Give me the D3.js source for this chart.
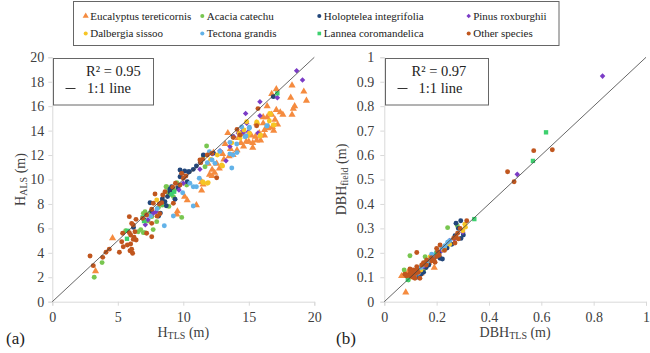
<!DOCTYPE html>
<html><head><meta charset="utf-8">
<script src="https://cdn.jsdelivr.net/npm/d3@7"></script>
<style>html,body{margin:0;padding:0;background:#fff}svg{display:block}svg text{font-family:'Liberation Serif','Times New Roman',serif}</style>
</head><body>
<svg id="c" width="650" height="353"></svg>
<script>
// ---------- data ----------
const speciesNames = ["Eucalyptus tereticornis","Acacia catechu","Holoptelea integrifolia","Pinus roxburghii","Dalbergia sissoo","Tectona grandis","Lannea coromandelica","Other species"];

// panel (a): [H_TLS, H_ALS] in m
const eucH = [[3.3,2.5],[4.6,5.2],[9.5,7.15],[9.55,7.4],[11.0,7.9],[10.1,8.6],[10.3,8.3],[11.4,9.1],[11.4,9.8],[11.5,9.6],[12.0,10.4],[12.2,10.8],[12.4,10.55],[12.75,10.9],[12.55,11.3],[13.1,11.65],[13.5,11.9],[13.0,12.1],[13.8,12.0],[13.6,12.5],[14.1,12.4],[14.6,12.7],[14.8,13.1],[15.3,12.6],[15.6,13.2],[15.9,13.6],[16.2,14.05],[16.5,14.3],[16.1,14.6],[15.6,14.6],[14.2,13.4],[13.4,13.8],[14.6,13.7],[15.0,13.1],[15.3,13.0],[15.2,13.6],[15.5,13.5],[15.9,13.2],[16.2,13.6],[15.8,13.8],[16.9,14.0],[16.5,14.2],[16.8,14.3],[17.2,14.5],[17.0,14.9],[16.1,15.1],[16.4,15.1],[16.75,15.3],[17.6,15.3],[17.4,15.5],[17.1,15.7],[18.3,15.3],[18.4,15.8],[18.5,16.0],[16.4,16.0],[16.75,17.0],[17.1,17.4],[18.2,16.7],[19.4,16.45],[19.2,17.2],[18.3,17.7],[12.3,12.2],[11.9,11.3],[13.2,12.9],[12.2,10.3],[14.4,13.0]];
const acaH = [[3.2,2.0],[3.8,3.2],[5.6,5.8],[6.56,5.73],[6.75,5.9],[6.95,5.65],[7.7,5.9],[7.07,5.65],[6.95,7.23],[7.08,7.37],[7.59,6.96],[8.73,9.4],[9.5,9.74],[10.26,9.55],[9.88,6.9],[8.68,9.41],[8.73,9.0],[11.78,12.74],[11.53,11.92],[11.66,11.05],[7.5,7.3],[8.1,7.7],[8.4,7.9],[9.0,8.8],[9.3,9.1],[7.3,6.6],[8.9,7.8],[7.97,6.55],[9.24,8.6]];
const holH = [[6.2,6.08],[7.46,8.1],[8.6,8.18],[8.98,9.2],[10.3,9.82],[8.1,7.0],[8.25,7.25],[10.46,10.64],[10.76,10.83],[9.88,10.5],[9.75,10.23],[9.11,9.41],[8.98,9.0],[9.37,8.38],[16.87,16.78],[7.0,6.7],[8.8,8.6],[11.3,11.4],[11.53,12.0],[12.3,12.14],[8.4,8.4],[9.6,9.3],[7.6,7.4],[8.7,7.85],[10.1,10.7],[11.0,11.1],[9.75,10.78],[10.38,10.64],[13.8,13.5]];
const pinH = [[18.65,18.9],[19.1,18.14],[15.85,16.37],[17.18,16.7],[14.76,15.4],[14.96,13.9],[15.7,13.8],[13.56,12.7],[12.8,12.36],[13.26,11.54],[13.85,13.5],[14.58,13.86],[15.85,15.22],[14.84,14.6],[14.46,13.9],[14.2,13.78],[9.67,9.14],[10.0,9.69],[11.27,10.83],[7.71,7.23],[7.92,7.36],[7.1,6.3],[7.3,6.7],[12.2,12.1]];
const dalH = [[7.97,8.32],[11.53,9.74],[11.9,9.74],[11.48,9.82],[11.83,9.69],[12.09,11.65],[12.93,11.19],[14.27,13.78],[14.63,14.05],[14.9,13.56],[15.6,14.7],[15.9,13.64],[16.67,15.33],[16.57,14.79],[16.87,14.46],[15.65,14.6],[15.04,13.78],[15.85,13.56],[16.6,15.4],[16.95,14.46],[14.84,14.73],[14.33,13.37],[12.6,12.0],[13.7,13.0],[13.0,11.1]];
const tecH = [[8.55,6.22],[9.24,7.01],[10.76,9.4],[11.0,9.4],[10.76,7.83],[11.22,10.1],[9.95,8.92],[10.5,9.69],[11.83,11.38],[12.42,11.32],[13.7,10.94],[14.08,12.9],[14.1,12.2],[13.56,12.1],[14.46,14.3],[15.04,14.27],[16.4,14.4],[16.37,14.38],[15.04,14.19],[14.71,13.5],[13.56,13.04],[12.2,11.6],[8.0,7.6],[7.5,7.0],[12.8,12.3],[14.79,13.56],[13.8,12.0],[11.99,12.27]];
const lanH = [[17.18,17.05],[5.7,5.15],[5.75,5.8],[7.0,6.6],[9.1,8.8],[8.3,8.0],[6.9,6.9],[9.3,9.0]];
const othH = [[2.88,3.74],[3.13,2.95],[3.85,3.63],[4.1,4.04],[4.35,4.3],[5.12,4.04],[5.3,4.9],[5.73,4.64],[5.98,4.72],[5.93,4.17],[6.13,3.96],[6.4,5.05],[6.24,5.27],[5.98,5.46],[5.37,5.6],[5.88,5.65],[6.06,6.4],[5.88,6.96],[6.39,6.74],[6.9,6.82],[6.18,6.28],[7.59,7.56],[8.17,8.0],[8.35,8.1],[7.84,8.81],[9.19,9.36],[9.75,9.55],[7.2,5.6],[7.59,5.32],[6.18,5.1],[6.06,4.29],[6.31,5.73],[5.42,4.5],[8.43,8.73],[10.0,10.1],[10.2,10.29],[11.48,11.65],[11.33,11.38],[12.17,12.14],[11.83,12.0],[12.55,10.15],[14.33,13.64],[15.6,14.4],[15.7,15.8],[14.1,14.1],[13.82,13.43],[7.2,7.1],[7.59,6.41],[8.0,7.0],[8.2,7.2],[8.6,9.0],[9.24,8.05],[7.71,8.05],[9.4,9.7],[11.27,11.6],[9.88,10.5]];

// panel (b): [DBH_TLS, DBH_field] in m
const eucD = [[0.066,0.105],[0.086,0.106],[0.082,0.038],[0.162,0.157],[0.191,0.139],[0.11,0.1],[0.13,0.125],[0.15,0.14],[0.09,0.12],[0.14,0.115],[0.17,0.16],[0.12,0.105],[0.075,0.11]];
const acaD = [[0.098,0.188],[0.076,0.13],[0.092,0.089],[0.156,0.184],[0.242,0.303],[0.279,0.311],[0.15,0.13],[0.12,0.11],[0.2,0.19],[0.16,0.165]];
const holD = [[0.292,0.331],[0.274,0.321],[0.283,0.300],[0.302,0.273],[0.293,0.259],[0.258,0.235],[0.213,0.178],[0.222,0.175],[0.136,0.13],[0.14,0.112],[0.15,0.12],[0.17,0.15],[0.19,0.18],[0.25,0.24],[0.27,0.27],[0.16,0.14],[0.13,0.1],[0.24,0.22],[0.21,0.2]];
const pinD = [[0.834,0.923],[0.508,0.521],[0.30,0.284],[0.268,0.257],[0.149,0.143],[0.25,0.25],[0.18,0.17],[0.22,0.21]];
const dalD = [[0.308,0.317],[0.226,0.212],[0.175,0.184],[0.3,0.29],[0.25,0.235],[0.2,0.2],[0.16,0.155],[0.14,0.13],[0.31,0.305],[0.23,0.22]];
const tecD = [[0.242,0.243],[0.232,0.229],[0.181,0.194],[0.117,0.102],[0.13,0.116],[0.16,0.16],[0.2,0.2],[0.22,0.22],[0.14,0.14],[0.17,0.17],[0.25,0.25],[0.12,0.12],[0.19,0.19],[0.15,0.15]];
const lanD = [[0.618,0.693],[0.568,0.576],[0.344,0.338],[0.09,0.09],[0.2,0.2]];
const othD = [[0.571,0.618],[0.642,0.622],[0.471,0.532],[0.496,0.491],[0.315,0.331],[0.274,0.266],[0.283,0.257],[0.2,0.218],[0.204,0.205],[0.162,0.171],[0.181,0.167],[0.194,0.161],[0.124,0.201],[0.098,0.134],[0.105,0.116],[0.092,0.109],[0.079,0.112],[0.124,0.143],[0.143,0.15],[0.117,0.096],[0.136,0.096],[0.213,0.232],[0.28,0.28],[0.27,0.24],[0.29,0.3],[0.11,0.13],[0.1,0.12],[0.12,0.115],[0.13,0.12],[0.15,0.16],[0.18,0.18],[0.19,0.17],[0.21,0.19],[0.23,0.21],[0.11,0.1],[0.125,0.13],[0.085,0.105],[0.1,0.105],[0.16,0.15],[0.265,0.26],[0.2,0.185]];

const hTicks = [0,5,10,15,20];
const hYTicks = [0,2,4,6,8,10,12,14,16,18,20];
const dTicks = [0,0.2,0.4,0.6,0.8,1];
const dTickLabels = ["0","0.2","0.4","0.6","0.8","1"];
const dYTicks = [0,0.1,0.2,0.3,0.4,0.5,0.6,0.7,0.8,0.9,1];
const dYTickLabels = ["0","0.1","0.2","0.3","0.4","0.5","0.6","0.7","0.8","0.9","1"];
const r2Labels = ["R\u00B2 = 0.95","R\u00B2 = 0.97"];

// ---------- styling ----------
const colors = ["#F58B3F","#78C650","#22467A","#7B3CC6","#F6C525","#62B2E8","#3DD06E","#C0561E"];
const shapes = ["tri","circle","circle","diamond","circle","circle","square","circle"];
const dataH = [eucH,acaH,holH,pinH,dalH,tecH,lanH,othH];
const dataD = [eucD,acaD,holD,pinD,dalD,tecD,lanD,othD];

const svg = d3.select("#c");
svg.append("rect").attr("width",650).attr("height",353).attr("fill","#fff");
const serif = "'Liberation Serif','Times New Roman',serif";

function symPath(shape, size){
  if(shape==="tri") return d3.symbol(d3.symbolTriangle, size)();
  if(shape==="square") return d3.symbol(d3.symbolSquare, size)();
  if(shape==="diamond") return d3.symbol(d3.symbolSquare, size*0.8)();
  return d3.symbol(d3.symbolCircle, size)();
}

function panel(cfg){
  const x = d3.scaleLinear().domain(cfg.xd).range(cfg.xr);
  const y = d3.scaleLinear().domain(cfg.yd).range(cfg.yr);
  const g = svg.append("g");
  const xa = d3.axisBottom(x).tickValues(cfg.xt).tickSize(4).tickPadding(6).tickFormat((d,i)=>cfg.xtl[i]);
  const ya = d3.axisLeft(y).tickValues(cfg.yt).tickSize(4).tickPadding(cfg.ypad).tickFormat((d,i)=>cfg.ytl[i]);
  const gx = g.append("g").attr("transform",`translate(0,${cfg.yr[0]})`).call(xa);
  const gy = g.append("g").attr("transform",`translate(${cfg.xr[0]},0)`).call(ya);
  [gx,gy].forEach(a=>{
    a.attr("font-family",serif);
    a.select(".domain").attr("stroke","#d9d9d9").attr("stroke-width",1);
    a.selectAll(".tick line").attr("stroke","#d9d9d9");
    a.selectAll("text").attr("font-family",serif).attr("font-size",14).attr("fill","#404040");
  });
  cfg.data.forEach((arr,si)=>{
    g.append("g").selectAll("path").data(arr).join("path")
      .attr("d", symPath(shapes[si], shapes[si]==="tri"?22:19))
      .attr("transform", d=>`translate(${x(d[0])},${y(d[1])})`+(shapes[si]==="diamond"?" rotate(45)":""))
      .attr("fill", colors[si]);
  });
  g.append("line").attr("x1",x(cfg.xd[0])).attr("y1",y(cfg.yd[0])).attr("x2",x(cfg.xd[1])).attr("y2",y(cfg.yd[1]))
    .attr("stroke","#404040").attr("stroke-width",0.8);
  const b = cfg.box;
  g.append("rect").attr("x",b.x).attr("y",b.y).attr("width",b.w).attr("height",b.h)
    .attr("fill","#fff").attr("stroke","#666").attr("stroke-width",1);
  g.append("text").attr("x",b.tx1).attr("y",b.y+17).attr("font-family",serif).attr("font-size",14.5).attr("fill","#222").text(cfg.r2);
  g.append("line").attr("x1",b.lx).attr("x2",b.lx+10).attr("y1",b.y+30).attr("y2",b.y+30).attr("stroke","#333").attr("stroke-width",1);
  g.append("text").attr("x",b.tx2).attr("y",b.y+34).attr("font-family",serif).attr("font-size",14.5).attr("fill","#222").text("1:1 line");
  const xt = g.append("text").attr("x",(cfg.xr[0]+cfg.xr[1])/2).attr("y",337).attr("text-anchor","middle")
    .attr("font-family",serif).attr("font-size",14).attr("fill","#404040");
  xt.append("tspan").text(cfg.xlab[0]);
  xt.append("tspan").attr("font-size",10).attr("dy",2).text(cfg.xlab[1]);
  xt.append("tspan").attr("dy",-2).text(cfg.xlab[2]);
  const cy = (cfg.yr[0]+cfg.yr[1])/2;
  const yt = g.append("text").attr("transform",`translate(${cfg.ytx},${cy}) rotate(-90)`).attr("text-anchor","middle")
    .attr("font-family",serif).attr("font-size",14).attr("fill","#404040");
  yt.append("tspan").text(cfg.ylab[0]);
  yt.append("tspan").attr("font-size",10).attr("dy",2).text(cfg.ylab[1]);
  yt.append("tspan").attr("dy",-2).text(cfg.ylab[2]);
  g.append("text").attr("x",cfg.lx).attr("y",344).attr("font-family",serif).attr("font-size",17).attr("fill","#222").text(cfg.letter);
}

panel({xd:[0,20],yd:[0,20],xr:[52.3,314.3],yr:[301.7,57.3],xt:hTicks,xtl:hTicks.map(String),yt:hYTicks,ytl:hYTicks.map(String),ypad:4,
  data:dataH,r2:r2Labels[0],box:{x:53.5,y:58.5,w:100,h:46.5,tx1:86,tx2:87,lx:65.5},
  xlab:["H","TLS"," (m)"],ylab:["H","ALS"," (m)"],ytx:25,lx:6,letter:"(a)"});
panel({xd:[0,1],yd:[0,1],xr:[384.3,646],yr:[301.7,57.3],xt:dTicks,xtl:dTickLabels,yt:dYTicks,ytl:dYTickLabels,ypad:6,
  data:dataD,r2:r2Labels[1],box:{x:385.5,y:58.5,w:103,h:46.5,tx1:411.5,tx2:418.5,lx:397.5},
  xlab:["DBH","TLS"," (m)"],ylab:["DBH","field"," (m)"],ytx:346,lx:336,letter:"(b)"});

const lg = svg.append("g");
lg.append("rect").attr("x",73.5).attr("y",1.5).attr("width",485.5).attr("height",44).attr("fill","#fff").attr("stroke","#666").attr("stroke-width",1);
const colX = [85.7,202.3,319.3,468.7];
const rowY = [16,33.5];
speciesNames.forEach((n,i)=>{
  const cx = colX[i%4], cy = rowY[Math.floor(i/4)];
  lg.append("path").attr("d",symPath(shapes[i], shapes[i]==="tri"?16:13))
    .attr("transform",`translate(${cx},${cy})`+(shapes[i]==="diamond"?" rotate(45)":"")).attr("fill",colors[i]);
  lg.append("text").attr("x",cx+4.5).attr("y",cy+3.8).attr("font-family",serif).attr("font-size",11).attr("fill","#222").text(n);
});
</script>
</body></html>
